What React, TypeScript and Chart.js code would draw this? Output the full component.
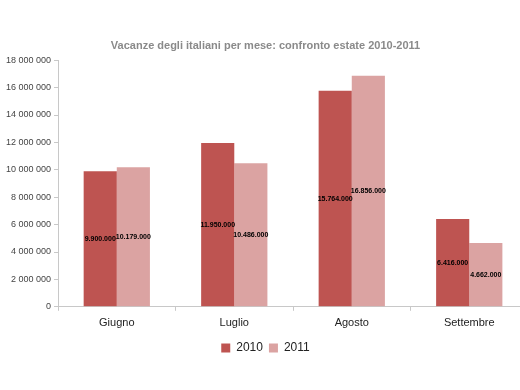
import React, { useEffect, useRef } from "react";
import { Chart, registerables } from "chart.js";

Chart.register(...registerables);

const categories = ["Giugno", "Luglio", "Agosto", "Settembre"];
const series2010 = [9900000, 11950000, 15764000, 6416000];
const series2011 = [10179000, 10486000, 16856000, 4662000];
const labels2010 = ["9.900.000", "11.950.000", "15.764.000", "6.416.000"];
const labels2011 = ["10.179.000", "10.486.000", "16.856.000", "4.662.000"];
const title = "Vacanze degli italiani per mese: confronto estate 2010-2011";

const FONT = "'Liberation Sans', Arial, sans-serif";

const fmt = (v: number) => {
  const s = Math.round(v).toString();
  return s.replace(/\B(?=(\d{3})+(?!\d))/g, " ");
};

const valueLabelPlugin = {
  id: "valueLabels",
  afterDatasetsDraw(chart: any) {
    const ctx = chart.ctx;
    const texts = [labels2010, labels2011];
    ctx.save();
    ctx.font = `bold 7px ${FONT}`;
    ctx.fillStyle = "#000";
    ctx.textAlign = "center";
    ctx.textBaseline = "middle";
    chart.data.datasets.forEach((ds: any, di: number) => {
      const meta = chart.getDatasetMeta(di);
      meta.data.forEach((bar: any, i: number) => {
        const y = (bar.y + bar.base) / 2;
        ctx.fillText(texts[di][i], bar.x, y);
      });
    });
    ctx.restore();
  },
};

export default function App() {
  const ref = useRef<HTMLCanvasElement>(null);
  useEffect(() => {
    document.body.style.margin = "0";
    document.body.style.overflow = "hidden";
    const chart = new Chart(ref.current!, {
      type: "bar",
      data: {
        labels: categories,
        datasets: [
          {
            label: "2010",
            data: series2010,
            backgroundColor: "#BE5451",
            categoryPercentage: 0.564,
            barPercentage: 1,
          },
          {
            label: "2011",
            data: series2011,
            backgroundColor: "#DBA3A2",
            categoryPercentage: 0.564,
            barPercentage: 1,
          },
        ],
      },
      options: {
        animation: false,
        responsive: false,
        maintainAspectRatio: false,
        layout: { padding: { top: 6, left: 3, right: 0, bottom: 26 } },
        plugins: {
          title: {
            display: true,
            text: title,
            color: "#8a8a8a",
            font: { family: FONT, size: 11, weight: "bold" },
            padding: { top: 33, bottom: 8 },
          },
          legend: {
            position: "bottom",
            labels: {
              color: "#222",
              font: { family: FONT, size: 12 },
              boxWidth: 9,
              boxHeight: 9,
              padding: 6,
            },
          },
          tooltip: { enabled: false },
        },
        scales: {
          x: {
            offset: true,
            grid: {
              display: true,
              drawOnChartArea: false,
              offset: true,
              tickLength: 4,
              color: "#c8c8c8",
            },
            border: { color: "#c8c8c8" },
            ticks: {
              color: "#222",
              font: { family: FONT, size: 11 },
              padding: 6,
            },
          },
          y: {
            min: 0,
            max: 18000000,
            grid: {
              display: true,
              drawOnChartArea: false,
              tickLength: 4,
              color: "#c8c8c8",
            },
            border: { color: "#c8c8c8" },
            ticks: {
              stepSize: 2000000,
              color: "#444",
              font: { family: FONT, size: 9 },
              padding: 3,
              callback: (v: any) => fmt(Number(v)),
            },
          },
        },
      },
      plugins: [valueLabelPlugin],
    });
    return () => chart.destroy();
  }, []);
  return (
    <div style={{ width: 520, height: 390, overflow: "hidden", background: "#fff" }}>
      <canvas ref={ref} width={528} height={390} style={{ display: "block" }} />
    </div>
  );
}
